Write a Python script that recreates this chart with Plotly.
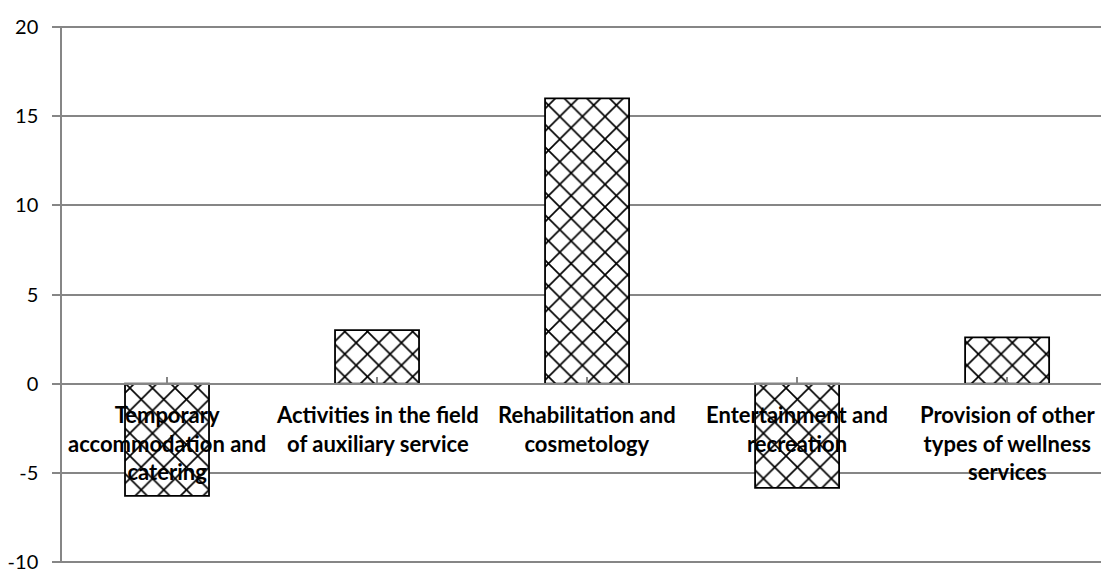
import plotly.graph_objects as go

categories = [
    "Temporary<br>accommodation and<br>catering",
    "Activities in the field<br>of auxiliary service",
    "Rehabilitation and<br>cosmetology",
    "Entertainment and<br>recreation",
    "Provision of other<br>types of wellness<br>services",
]
values = [-6.3, 3.0, 16.0, -5.85, 2.6]
y_ticks = [-10, -5, 0, 5, 10, 15, 20]
y_tick_text = ["-10", "-5", "0", "5", "10", "15", "20"]

FONT = "Lato"
GRID = "#868686"

fig = go.Figure()
fig.add_trace(go.Bar(
    x=list(range(len(categories))),
    y=values,
    width=0.4,
    marker=dict(
        color="white",
        line=dict(color="black", width=1.8),
        pattern=dict(shape="x", fgcolor="#000000", fgopacity=1, bgcolor="white",
                     size=16, solidity=0.2),
    ),
    showlegend=False,
    hoverinfo="skip",
))

for i, c in enumerate(categories):
    fig.add_annotation(
        x=i, y=0, xref="x", yref="y", text="<b>" + c + "</b>",
        showarrow=False, yanchor="top", yshift=-15,
        font=dict(family=FONT, size=22, color="black"),
        align="center",
    )

fig.update_layout(
    width=1101, height=569,
    margin=dict(l=62, r=0, t=26, b=6, autoexpand=False),
    paper_bgcolor="white", plot_bgcolor="white",
    font=dict(family=FONT, size=20, color="black"),
    xaxis=dict(
        range=[-0.5, 4.447],
        tickmode="array", tickvals=list(range(len(categories))),
        tickson="boundaries", ticks="inside", ticklen=6, tickcolor=GRID, tickwidth=1.5,
        showticklabels=False, showgrid=False, zeroline=False,
        showline=True, linecolor=GRID, linewidth=1.5,
        anchor="free", position=1/3, automargin=False,
    ),
    yaxis=dict(
        range=[-10.06, 20.06], tickvals=y_ticks, ticktext=y_tick_text,
        ticks="outside", ticklen=8, tickcolor=GRID, tickwidth=1.5,
        showline=True, linecolor=GRID, linewidth=1.5,
        showgrid=True, gridcolor=GRID, gridwidth=1.5,
        zeroline=False,
        ticklabelstandoff=10,
        ticklabeloverflow="allow",
        automargin=False,
        tickfont=dict(family=FONT, size=20, color="black"),
    ),
)

fig.write_html(
    "out.html",
    config={"displayModeBar": False},
    post_script="document.body.style.margin='0';document.body.style.overflow='hidden';",
)
